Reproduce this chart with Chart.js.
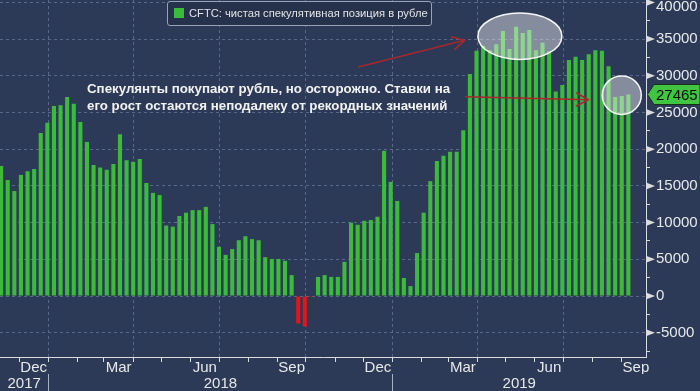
<!DOCTYPE html>
<html>
<head>
<meta charset="utf-8">
<script src="https://cdn.jsdelivr.net/npm/chart.js@4.4.0/dist/chart.umd.min.js"></script>
<style>
  html, body { margin: 0; padding: 0; background: #2c3a57; }
  #wrap { position: relative; width: 700px; height: 391px; }
  #legend {
    position: absolute; left: 167px; top: 1px; width: 265px; height: 25px;
    box-sizing: border-box; border: 1px solid #9aa3b5; border-radius: 3px;
    background: #26314b; color: #e4e4e4;
    font: 11.2px "Liberation Sans", Arial, sans-serif; line-height: 23px; white-space: nowrap;
  }
  #legend .box { position: absolute; left: 6px; top: 6px; width: 10px; height: 10px; }
  #legend .txt { position: absolute; left: 21px; top: 0; }
  #note {
    position: absolute; left: 87px; top: 81px; color: #f2f2f2;
    font: bold 13.3px "Liberation Sans", Arial, sans-serif; line-height: 16.5px; white-space: nowrap;
  }
</style>
</head>
<body>
<div id="wrap">
  <canvas id="chart" width="700" height="391"></canvas>
  <div id="legend"></div>
  <div id="note">Спекулянты покупают рубль, но осторожно. Ставки на<br>его рост остаются неподалеку от рекордных значений</div>
</div>
<script>
// CFTC net speculative position in RUB, weekly, from mid-Nov 2017 to Sep 2019
const values = [
  17700, 15800, 14300, 16500, 17000, 17300, 22200, 23600, 25900, 26000,
  27100, 26200, 23700, 21000, 17850, 17500, 17200, 18000, 22050, 18500,
  18300, 18650, 15400, 14050, 13750, 9600, 9450, 10900, 11350, 11700,
  11700, 12150, 9800, 6700, 5600, 6400, 7600, 8150, 7750, 7600,
  5300, 5050, 5050, 4800, 2850, -3750, -4150, -120, 2600, 2850,
  2600, 2600, 4650, 10000, 9700, 10250, 10350, 10800, 19800, 15550,
  12950, 2450, 1350, 5850, 11350, 15650, 18400, 19100, 19650, 19650,
  22600, 30250, 33400, 34050, 33500, 34300, 36100, 33650, 36700, 35850,
  36250, 33500, 34500, 33350, 27850, 28750, 32150, 32600, 32150, 32950,
  33500, 33400, 31300, 27100, 27250, 27465
]
const seriesLabel = 'CFTC: чистая спекулятивная позиция в рубле'
const firstWeek = [2017, 11, 12]

const monthLabels = ['Dec', 'Mar', 'Jun', 'Sep', 'Dec', 'Mar', 'Jun', 'Sep']
const monthLabelDates = [[2017, 12], [2018, 3], [2018, 6], [2018, 9], [2018, 12], [2019, 3], [2019, 6], [2019, 9]]
const yearLabels = ['2017', '2018', '2019']

// ellipses and arrows of the annotation, in data units (days from 1 Jan 2018, position)
const highlights = [
  { x: 500, y: 35400, dx: 44.5, dy: 3170 },
  { x: 608, y: 27360, dx: 20.7, dy: 2620 }
]
const arrows = [
  { x1: 328.6, y1: 31200, x2: 441.3, y2: 34840 },
  { x1: 441.8, y1: 27150, x2: 572.5, y2: 26730 }
]

const GREEN = '#3cba3c'
const RED = '#e3141b'
const GRID = '#56698a'
const AXIS = '#dcdcdc'
const TEXT = '#e8e8e8'
const FONT = '"Liberation Sans", Arial, sans-serif'

const dayZero = Date.UTC(2018, 0, 1)
function dayOf(y, m, d) { return (Date.UTC(y, m - 1, d) - dayZero) / 86400000 }

const startDay = dayOf(firstWeek[0], firstWeek[1], firstWeek[2])
const xMin = startDay - 1.2
const xMax = dayOf(2019, 9, 27) - 0.3

// month boundaries (tick marks), quarter boundaries get a grid line
const monthStarts = []
const quarterStarts = new Set()
for (let y = 2017, m = 12; y < 2019 || m <= 9;) {
  const d = dayOf(y, m, 1)
  monthStarts.push(d)
  if (m % 3 === 1) quarterStarts.add(d)
  m++
  if (m > 12) { m = 1; y++ }
}
const labelAt = new Map()
monthLabelDates.forEach(function (ym, i) {
  const a = dayOf(ym[0], ym[1], 1)
  const b = ym[1] === 12 ? dayOf(ym[0] + 1, 1, 1) : dayOf(ym[0], ym[1] + 1, 1)
  labelAt.set((a + b) / 2, monthLabels[i])
})
const xTicks = monthStarts.concat(Array.from(labelAt.keys())).sort((a, b) => a - b)

const yearStarts = [dayOf(2018, 1, 1), dayOf(2019, 1, 1)]
const yearAt = new Map()
yearAt.set((xMin + yearStarts[0]) / 2, yearLabels[0])
yearAt.set((yearStarts[0] + yearStarts[1]) / 2, yearLabels[1])
yearAt.set((yearStarts[1] + xMax) / 2, yearLabels[2])
const yearTicks = yearStarts.concat(Array.from(yearAt.keys())).sort((a, b) => a - b)

const yTicks = []
for (let v = -7500; v <= 40000; v += 2500) yTicks.push(v)

const points = values.map(function (v, i) { return { x: startDay + 7 * i, y: v } })

const annotationPlugin = {
  id: 'annotations',
  afterDatasetsDraw(chart) {
    const ctx = chart.ctx
    const sx = chart.scales.x
    const sy = chart.scales.y
    ctx.save()
    highlights.forEach(function (h) {
      const cx = sx.getPixelForValue(h.x)
      const cy = sy.getPixelForValue(h.y)
      const rx = sx.getPixelForValue(h.x + h.dx) - cx
      const ry = cy - sy.getPixelForValue(h.y + h.dy)
      ctx.beginPath()
      ctx.ellipse(cx, cy, rx, ry, 0, 0, Math.PI * 2)
      ctx.fillStyle = 'rgba(255,255,255,0.42)'
      ctx.fill()
      ctx.lineWidth = 1.5
      ctx.strokeStyle = 'rgba(255,255,255,0.95)'
      ctx.stroke()
    })
    ctx.strokeStyle = '#a8262e'
    ctx.lineWidth = 1.6
    arrows.forEach(function (a) {
      const x1 = sx.getPixelForValue(a.x1), y1 = sy.getPixelForValue(a.y1)
      const x2 = sx.getPixelForValue(a.x2), y2 = sy.getPixelForValue(a.y2)
      const ang = Math.atan2(y2 - y1, x2 - x1)
      ctx.beginPath()
      ctx.moveTo(x1, y1)
      ctx.lineTo(x2, y2)
      ctx.moveTo(x2 - 14 * Math.cos(ang - 0.5), y2 - 14 * Math.sin(ang - 0.5))
      ctx.lineTo(x2, y2)
      ctx.lineTo(x2 - 14 * Math.cos(ang + 0.5), y2 - 14 * Math.sin(ang + 0.5))
      ctx.stroke()
    })
    ctx.restore()
  },
  beforeDraw(chart) {
    // keep the top tick label inside the canvas
    const items = chart.scales.y.getLabelItems()
    items.forEach(function (it) {
      if (it.options && it.options.translation && it.options.translation[1] < 7) it.options.translation[1] = 7
    })
  },
  afterDraw(chart) {
    const ctx = chart.ctx
    const sy = chart.scales.y
    const x0 = chart.chartArea.right
    ctx.save()
    // arrow heads of the major y ticks
    ctx.fillStyle = AXIS
    yTicks.forEach(function (v) {
      if (v % 5000 !== 0) return
      const py = sy.getPixelForValue(v)
      ctx.beginPath()
      ctx.moveTo(x0, py - 3.5)
      ctx.lineTo(x0 + 9, py)
      ctx.lineTo(x0, py + 3.5)
      ctx.closePath()
      ctx.fill()
    })
    // last value tag
    const last = values[values.length - 1]
    const py = Math.round(sy.getPixelForValue(last)) + 0.5
    ctx.beginPath()
    ctx.moveTo(x0 + 1.5, py)
    ctx.lineTo(x0 + 8, py - 10)
    ctx.lineTo(chart.width, py - 10)
    ctx.lineTo(chart.width, py + 10)
    ctx.lineTo(x0 + 8, py + 10)
    ctx.closePath()
    ctx.fillStyle = '#41c441'
    ctx.fill()
    ctx.strokeStyle = '#16331a'
    ctx.lineWidth = 1
    ctx.stroke()
    ctx.fillStyle = '#0b0b0b'
    ctx.font = '15px ' + FONT
    ctx.textBaseline = 'middle'
    ctx.textAlign = 'left'
    ctx.fillText(String(last), x0 + 10, py + 1)
    ctx.restore()
  }
}

const chart = new Chart(document.getElementById('chart'), {
  type: 'bar',
  data: {
    datasets: [{
      label: seriesLabel,
      data: points,
      backgroundColor: function (c) { return c.raw && c.raw.y < 0 ? RED : GREEN },
      borderWidth: 0,
      barPercentage: 0.62,
      categoryPercentage: 1
    }]
  },
  options: {
    responsive: false,
    animation: false,
    layout: { padding: 0 },
    plugins: { legend: { display: false }, tooltip: { enabled: false } },
    scales: {
      x: {
        type: 'linear',
        position: 'bottom',
        offset: false,
        min: xMin,
        max: xMax,
        weight: 0,
        afterBuildTicks: function (s) { s.ticks = xTicks.map(function (v) { return { value: v } }) },
        afterFit: function (s) { s.height = 17; s.paddingLeft = 0; s.paddingRight = 0; s.paddingTop = 0; s.paddingBottom = 0 },
        grid: {
          offset: false,
          color: function (c) { return c.tick && quarterStarts.has(c.tick.value) ? GRID : 'transparent' },
          tickColor: function (c) { return c.tick && labelAt.has(c.tick.value) ? 'transparent' : AXIS },
          tickLength: 5
        },
        border: { color: AXIS, width: 1, dash: [3, 3] },
        ticks: {
          autoSkip: false,
          maxRotation: 0,
          minRotation: 0,
          padding: -3,
          color: TEXT,
          font: { family: FONT, size: 15 },
          callback: function (v) { return labelAt.get(v) || '' }
        }
      },
      years: {
        type: 'linear',
        position: 'bottom',
        offset: false,
        min: xMin,
        max: xMax,
        weight: 1,
        afterBuildTicks: function (s) { s.ticks = yearTicks.map(function (v) { return { value: v } }) },
        afterFit: function (s) { s.height = 17; s.paddingLeft = 0; s.paddingRight = 0; s.paddingTop = 0; s.paddingBottom = 0 },
        grid: {
          offset: false,
          drawOnChartArea: false,
          tickColor: function (c) { return c.tick && yearAt.has(c.tick.value) ? 'transparent' : '#a9b1c2' },
          tickLength: 17
        },
        border: { display: false },
        ticks: {
          autoSkip: false,
          maxRotation: 0,
          minRotation: 0,
          padding: -16,
          color: TEXT,
          font: { family: FONT, size: 15 },
          callback: function (v) { return yearAt.get(v) || '' }
        }
      },
      y: {
        type: 'linear',
        position: 'right',
        min: -8310,
        max: 40330,
        afterBuildTicks: function (s) { s.ticks = yTicks.map(function (v) { return { value: v } }) },
        afterFit: function (s) { s.width = 54; s.paddingLeft = 0; s.paddingRight = 0; s.paddingTop = 0; s.paddingBottom = 0 },
        grid: {
          color: function (c) { return c.tick && c.tick.value % 5000 === 0 ? GRID : 'transparent' },
          tickColor: function (c) { return c.tick && c.tick.value % 5000 === 0 ? 'transparent' : AXIS },
          tickLength: 4
        },
        border: { color: AXIS, width: 1, dash: [3, 3] },
        ticks: {
          autoSkip: false,
          padding: 6,
          color: TEXT,
          font: { family: FONT, size: 15 },
          callback: function (v) { return v % 5000 === 0 ? String(v) : '' }
        }
      }
    }
  },
  plugins: [annotationPlugin]
})

// legend built from the dataset
const ds = chart.data.datasets[0]
const legend = document.getElementById('legend')
const sw = document.createElement('span')
sw.className = 'box'
sw.style.background = GREEN
const tx = document.createElement('span')
tx.className = 'txt'
tx.textContent = ds.label
legend.appendChild(sw)
legend.appendChild(tx)
</script>
</body>
</html>
